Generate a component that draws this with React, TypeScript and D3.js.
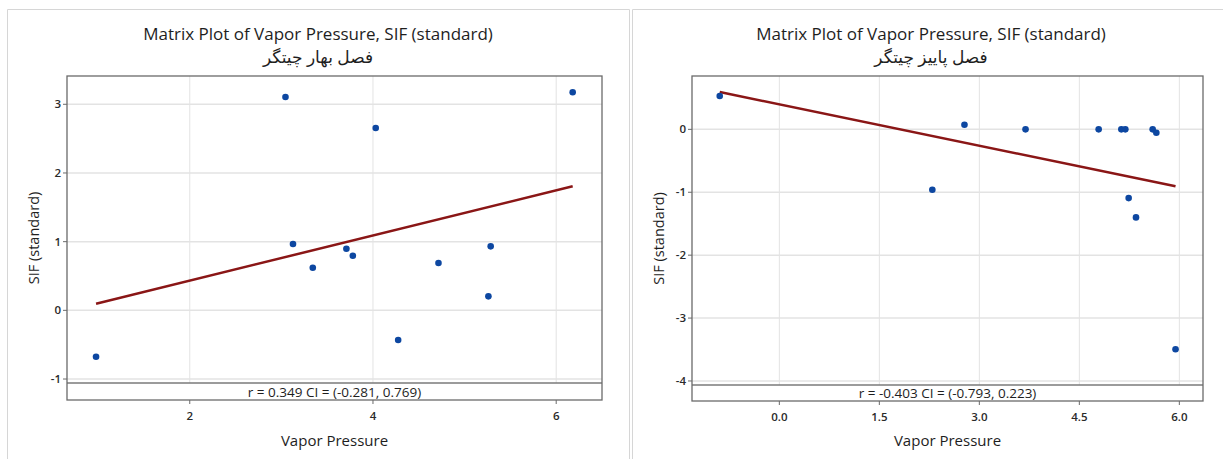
import React from "react";
import * as d3 from "d3";

// ---------- Data ----------
const springVapor = [3.045, 6.18, 4.03, 3.127, 3.71, 3.78, 5.285, 3.343, 4.715, 5.26, 4.275, 0.977];
const springSIF = [3.106, 3.175, 2.655, 0.965, 0.897, 0.795, 0.932, 0.62, 0.689, 0.204, -0.432, -0.675];
const springFit = { intercept: -0.224, slope: 0.3285 };
const springXTicks = [2, 4, 6];
const springYTicks = [-1, 0, 1, 2, 3];

const autumnVapor = [-0.894, 2.777, 2.295, 3.693, 4.79, 5.13, 5.19, 5.24, 5.35, 5.6, 5.655, 5.943];
const autumnSIF = [0.53, 0.073, -0.961, 0.0, 0.0, 0.0, 0.0, -1.093, -1.4, 0.0, -0.054, -3.496];
const autumnFit = { intercept: 0.397, slope: -0.219 };
const autumnXTicks = [0, 1.5, 3, 4.5, 6];
const autumnYTicks = [-4, -3, -2, -1, 0];

const mainTitle = "Matrix Plot of Vapor Pressure, SIF (standard)";
const springSubtitle = "فصل بهار چیتگر";
const autumnSubtitle = "فصل پاییز چیتگر";
const springStat = "r = 0.349  CI = (-0.281, 0.769)";
const autumnStat = "r = -0.403  CI = (-0.793, 0.223)";
const xLabel = "Vapor Pressure";
const yLabel = "SIF (standard)";

const FONT = "'Open Sans', 'DejaVu Sans', sans-serif";

type PanelProps = {
  titleCenter: number;
  plot: { left: number; right: number; top: number; sep: number; bottom: number };
  xDomain: [number, number];
  yDomain: [number, number];
  xs: number[];
  ys: number[];
  fit: { intercept: number; slope: number };
  xTicks: number[];
  yTicks: number[];
  xFmt: (v: number) => string;
  subtitle: string;
  stat: string;
};

function Panel(p: PanelProps) {
  const { plot } = p;
  const x = d3.scaleLinear().domain(p.xDomain).range([plot.left, plot.right]);
  const y = d3.scaleLinear().domain(p.yDomain).range([plot.sep, plot.top]);
  const xmin = d3.min(p.xs) as number;
  const xmax = d3.max(p.xs) as number;
  const fitPts: [number, number][] = [xmin, xmax].map((v) => [v, p.fit.intercept + p.fit.slope * v]);
  const line = d3
    .line<[number, number]>()
    .x((d) => x(d[0]))
    .y((d) => y(d[1]));
  const cx = (plot.left + plot.right) / 2;
  const cy = (plot.top + plot.bottom) / 2;
  const tc = p.titleCenter;
  return (
    <g>
      <text x={tc} y={40} textAnchor="middle" fontFamily={FONT} fontSize={17} fontWeight={500} fill="#1e1e1e">
        {mainTitle}
      </text>
      <text x={tc} y={63} textAnchor="middle" fontFamily={FONT} fontSize={17} fill="#1e1e1e" direction="rtl">
        {p.subtitle}
      </text>
      {/* grid */}
      {p.xTicks.map((t) => (
        <line key={"gx" + t} x1={x(t)} x2={x(t)} y1={plot.top} y2={plot.bottom} stroke="#e3e3e3" strokeWidth={1} />
      ))}
      {p.yTicks.map((t) => (
        <line key={"gy" + t} x1={plot.left} x2={plot.right} y1={y(t)} y2={y(t)} stroke="#e3e3e3" strokeWidth={1.5} />
      ))}
      {/* separator & stat box */}
      <rect x={plot.left} y={plot.sep} width={plot.right - plot.left} height={plot.bottom - plot.sep} fill="#fff" />
      <line x1={plot.left} x2={plot.right} y1={plot.sep} y2={plot.sep} stroke="#7a7a7a" strokeWidth={1.5} />
      <text x={cx} y={plot.bottom - 3} textAnchor="middle" fontFamily={FONT} fontSize={13.5} fill="#1e1e1e">
        {p.stat}
      </text>
      {/* fit line */}
      <path d={line(fitPts) || ""} fill="none" stroke="#8a1616" strokeWidth={2.5} />
      {/* points */}
      {p.xs.map((v, i) => (
        <circle key={"p" + i} cx={x(v)} cy={y(p.ys[i])} r={3.3} fill="#0d47a1" />
      ))}
      {/* frame */}
      <rect
        x={plot.left}
        y={plot.top}
        width={plot.right - plot.left}
        height={plot.bottom - plot.top}
        fill="none"
        stroke="#6a6a6a"
        strokeWidth={1.3}
      />
      {/* y ticks */}
      {p.yTicks.map((t) => (
        <g key={"ty" + t}>
          <line x1={plot.left - 4} x2={plot.left} y1={y(t)} y2={y(t)} stroke="#6a6a6a" strokeWidth={1} />
          <text x={plot.left - 6} y={y(t) + 4} textAnchor="end" fontFamily={FONT} fontSize={11.5} fontWeight={600} fill="#2a2a2a">
            {t}
          </text>
        </g>
      ))}
      {/* x ticks */}
      {p.xTicks.map((t) => (
        <g key={"tx" + t}>
          <line x1={x(t)} x2={x(t)} y1={plot.bottom} y2={plot.bottom + 4} stroke="#6a6a6a" strokeWidth={1} />
          <text x={x(t)} y={plot.bottom + 20} textAnchor="middle" fontFamily={FONT} fontSize={11.5} fontWeight={600} fill="#2a2a2a">
            {p.xFmt(t)}
          </text>
        </g>
      ))}
      <text x={cx} y={446} textAnchor="middle" fontFamily={FONT} fontSize={15} fill="#1e1e1e">
        {xLabel}
      </text>
      <text
        transform={`translate(${plot.left - 28},${cy}) rotate(-90)`}
        textAnchor="middle"
        fontFamily={FONT}
        fontSize={14.5}
        fontWeight={500}
        fill="#1e1e1e"
      >
        {yLabel}
      </text>
    </g>
  );
}

export default function App() {
  return (
    <svg
      width={1223}
      height={459}
      style={{ position: "absolute", left: 0, top: 0, background: "#fff" }}
    >
      <rect x={0} y={0} width={1223} height={459} fill="#fff" />
      {/* panel borders */}
      <path d="M7.5,459 V9.5 H629.5 V459" fill="none" stroke="#d6d6d6" strokeWidth={1} />
      <path d="M632.5,459 V9.5 H1223" fill="none" stroke="#d6d6d6" strokeWidth={1} />
      <Panel
        titleCenter={318}
        plot={{ left: 67, right: 602, top: 76, sep: 383, bottom: 400 }}
        xDomain={[0.66, 6.5]}
        yDomain={[-1.058, 3.412]}
        xs={springVapor}
        ys={springSIF}
        fit={springFit}
        xTicks={springXTicks}
        yTicks={springYTicks}
        xFmt={(v) => d3.format("d")(v)}
        subtitle={springSubtitle}
        stat={springStat}
      />
      <Panel
        titleCenter={931}
        plot={{ left: 692, right: 1203, top: 76, sep: 385, bottom: 401 }}
        xDomain={[-1.31, 6.355]}
        yDomain={[-4.064, 0.848]}
        xs={autumnVapor}
        ys={autumnSIF}
        fit={autumnFit}
        xTicks={autumnXTicks}
        yTicks={autumnYTicks}
        xFmt={(v) => d3.format(".1f")(v)}
        subtitle={autumnSubtitle}
        stat={autumnStat}
      />
    </svg>
  );
}
